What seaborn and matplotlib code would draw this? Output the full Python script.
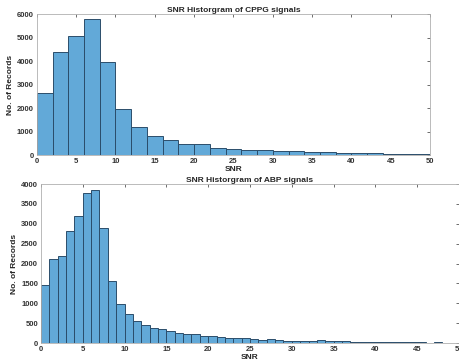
import numpy as np
import matplotlib
matplotlib.use("Agg")
import matplotlib.pyplot as plt
import seaborn as sns

# CPPG histogram: bins of width 2 from 0 to 50
cppg_edges = list(range(0, 52, 2))
cppg_counts = [2630, 4400, 5080, 5800, 3950, 1940, 1200, 830, 650, 450,
               450, 310, 270, 230, 230, 190, 150, 120, 120, 100,
               90, 80, 60, 60, 55]

# ABP histogram: bins of width 1 from 0 to 50
abp_edges = list(range(0, 51, 1))
abp_counts = [1450, 2110, 2180, 2830, 3200, 3780, 3850, 2900, 1560, 980,
              730, 550, 450, 390, 350, 300, 250, 230, 230, 170,
              170, 150, 130, 120, 120, 100, 70, 90, 80, 60,
              50, 40, 40, 70, 60, 50, 40, 30, 30, 25,
              25, 20, 20, 20, 20, 20, 5, 15, 10, 10]

x_ticks = [0, 5, 10, 15, 20, 25, 30, 35, 40, 45, 50]
cppg_yticks = [0, 1000, 2000, 3000, 4000, 5000, 6000]
abp_yticks = [0, 500, 1000, 1500, 2000, 2500, 3000, 3500, 4000]

sns.set_theme(style="white")
plt.rcParams["font.family"] = ["Liberation Sans", "DejaVu Sans"]

face = "#62a9d8"
edge = "#2b4d6b"

fig = plt.figure(figsize=(4.6, 3.63), dpi=100)
ax1 = fig.add_axes([0.080, 0.573, 0.855, 0.388])
ax2 = fig.add_axes([0.089, 0.055, 0.909, 0.438])


def draw(ax, edges, counts, yticks, title):
    e = np.array(edges, dtype=float)
    centers = (e[:-1] + e[1:]) / 2
    sns.histplot(x=centers, weights=counts, bins=edges, ax=ax,
                 color=face, edgecolor=edge, linewidth=0.7, alpha=1)
    ax.set_xlim(0, 50)
    ax.set_ylim(yticks[0], yticks[-1])
    ax.set_xticks(x_ticks)
    ax.set_yticks(yticks)
    ax.tick_params(direction="in", length=2.5, width=0.5, labelsize=5.5,
                   colors="#333333", top=True, right=True, pad=2)
    for lbl in ax.get_xticklabels() + ax.get_yticklabels():
        lbl.set_fontweight("bold")
    for sp in ax.spines.values():
        sp.set_color("#b0b0b0")
        sp.set_linewidth(0.6)
    ax.set_title(title, fontsize=6, fontweight="bold", pad=1.5)
    ax.set_xlabel("SNR", fontsize=6, fontweight="bold", labelpad=1)
    ax.set_ylabel("No. of Records", fontsize=6, fontweight="bold", labelpad=2)


draw(ax1, cppg_edges, cppg_counts, cppg_yticks, "SNR Historgram of CPPG signals")
draw(ax2, abp_edges, abp_counts, abp_yticks, "SNR Historgram of ABP signals")

fig.savefig("out.png", dpi=100, facecolor="white")
